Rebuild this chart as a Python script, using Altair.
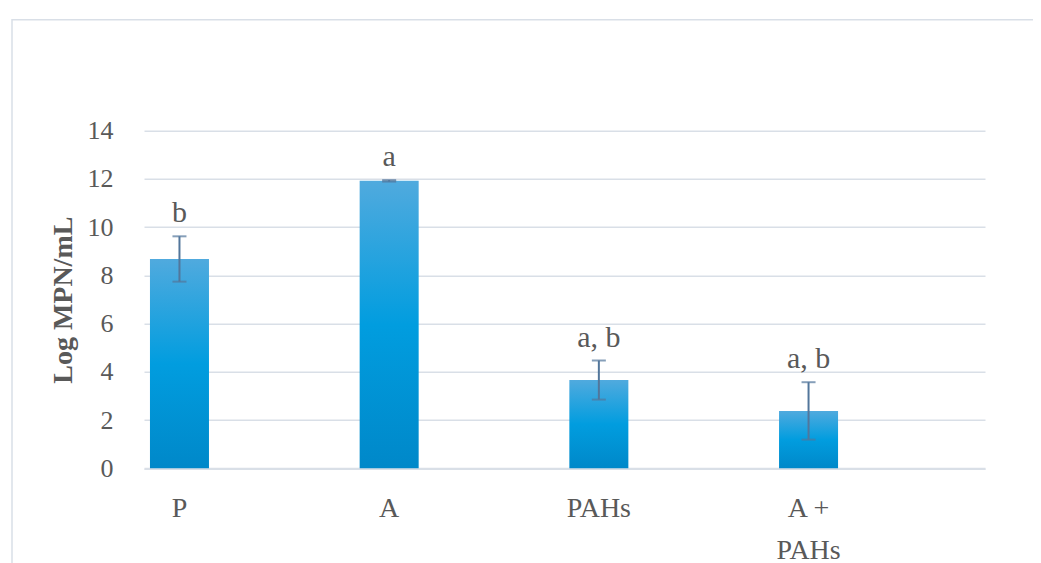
import altair as alt
import pandas as pd

categories = ["P", "A", "PAHs", "A + PAHs"]
means = [8.68, 11.92, 3.66, 2.38]
errors = [0.94, 0.03, 0.81, 1.19]
letters = ["b", "a", "a, b", "a, b"]
y_ticks = [0, 2, 4, 6, 8, 10, 12, 14]

df = pd.DataFrame({"cat": categories, "mean": means, "err": errors, "letter": letters})

FONT = "Liberation Serif"
TXT = "#595959"
GRID = "#d9dfe7"
ERR = "#52769b"

xscale = alt.Scale(domain=categories, paddingInner=0.7186, paddingOuter=0.3646, align=0.039)
yscale = alt.Scale(domain=[0, 14], nice=False)

base = alt.Chart(df).transform_calculate(
    upper="datum.mean + datum.err", lower="datum.mean - datum.err"
)

x_enc = alt.X(
    "cat:N",
    scale=xscale,
    sort=categories,
    axis=alt.Axis(
        title=None,
        labelAngle=0,
        ticks=False,
        tickSize=0,
        labelPadding=48,
        labelBaseline="alphabetic",
        labelFont=FONT,
        labelFontSize=28,
        labelColor=TXT,
        labelLineHeight=42,
        labelExpr="datum.label == 'A + PAHs' ? ['A +', 'PAHs'] : datum.label",
        domainColor=GRID,
        domainWidth=2,
        grid=False,
    ),
)

bars = base.mark_bar(
    color=alt.Gradient(
        gradient="linear",
        x1=0, x2=0, y1=0, y2=1,
        stops=[
            alt.GradientStop(offset=0, color="#50aade"),
            alt.GradientStop(offset=0.5, color="#019ddf"),
            alt.GradientStop(offset=1, color="#0088c9"),
        ],
    )
).encode(
    x=x_enc,
    y=alt.Y(
        "mean:Q",
        scale=yscale,
        axis=alt.Axis(
            values=y_ticks,
            title="Log MPN/mL",
            titleFont=FONT,
            titleFontSize=28,
            titleFontWeight="bold",
            titleColor=TXT,
            titleAngle=-90,
            titleX=-73,
            titleY=169,
            titleAlign="center",
            titleBaseline="alphabetic",
            labelFont=FONT,
            labelFontSize=26,
            labelColor=TXT,
            labelPadding=31,
            ticks=False,
            tickSize=0,
            domain=False,
            grid=True,
            gridColor=GRID,
            gridWidth=1.5,
        ),
    ),
)

rules = base.mark_rule(color=ERR, strokeWidth=2).encode(
    x=alt.X("cat:N", scale=xscale, sort=categories),
    y=alt.Y("lower:Q", scale=yscale),
    y2="upper:Q",
)

caps_top = base.mark_tick(color=ERR, thickness=2, size=14, orient="horizontal").encode(
    x=alt.X("cat:N", scale=xscale, sort=categories),
    y=alt.Y("upper:Q", scale=yscale),
)
caps_bot = base.mark_tick(color=ERR, thickness=2, size=14, orient="horizontal").encode(
    x=alt.X("cat:N", scale=xscale, sort=categories),
    y=alt.Y("lower:Q", scale=yscale),
)

labels = base.mark_text(
    font=FONT, fontSize=30, color=TXT, baseline="alphabetic", align="center", dy=-14
).encode(
    x=alt.X("cat:N", scale=xscale, sort=categories),
    y=alt.Y("upper:Q", scale=yscale),
    text="letter:N",
)

frame = alt.Chart(pd.DataFrame({"f": [0]})).mark_rect(
    fill="transparent", stroke="#d9dfe7", strokeWidth=1.5
).encode(
    x=alt.value(-132), x2=alt.value(892), y=alt.value(-111), y2=alt.value(460)
)

chart = alt.layer(frame, bars, rules, caps_top, caps_bot, labels).properties(
    width=841,
    height=337.6,
    padding={"left": 136, "top": 122.7, "right": 48, "bottom": 101},
    autosize=alt.AutoSizeParams(type="none"),
    background="white",
).configure_view(stroke=None)

chart.save("out.html", embed_options={"renderer": "svg", "actions": False})
